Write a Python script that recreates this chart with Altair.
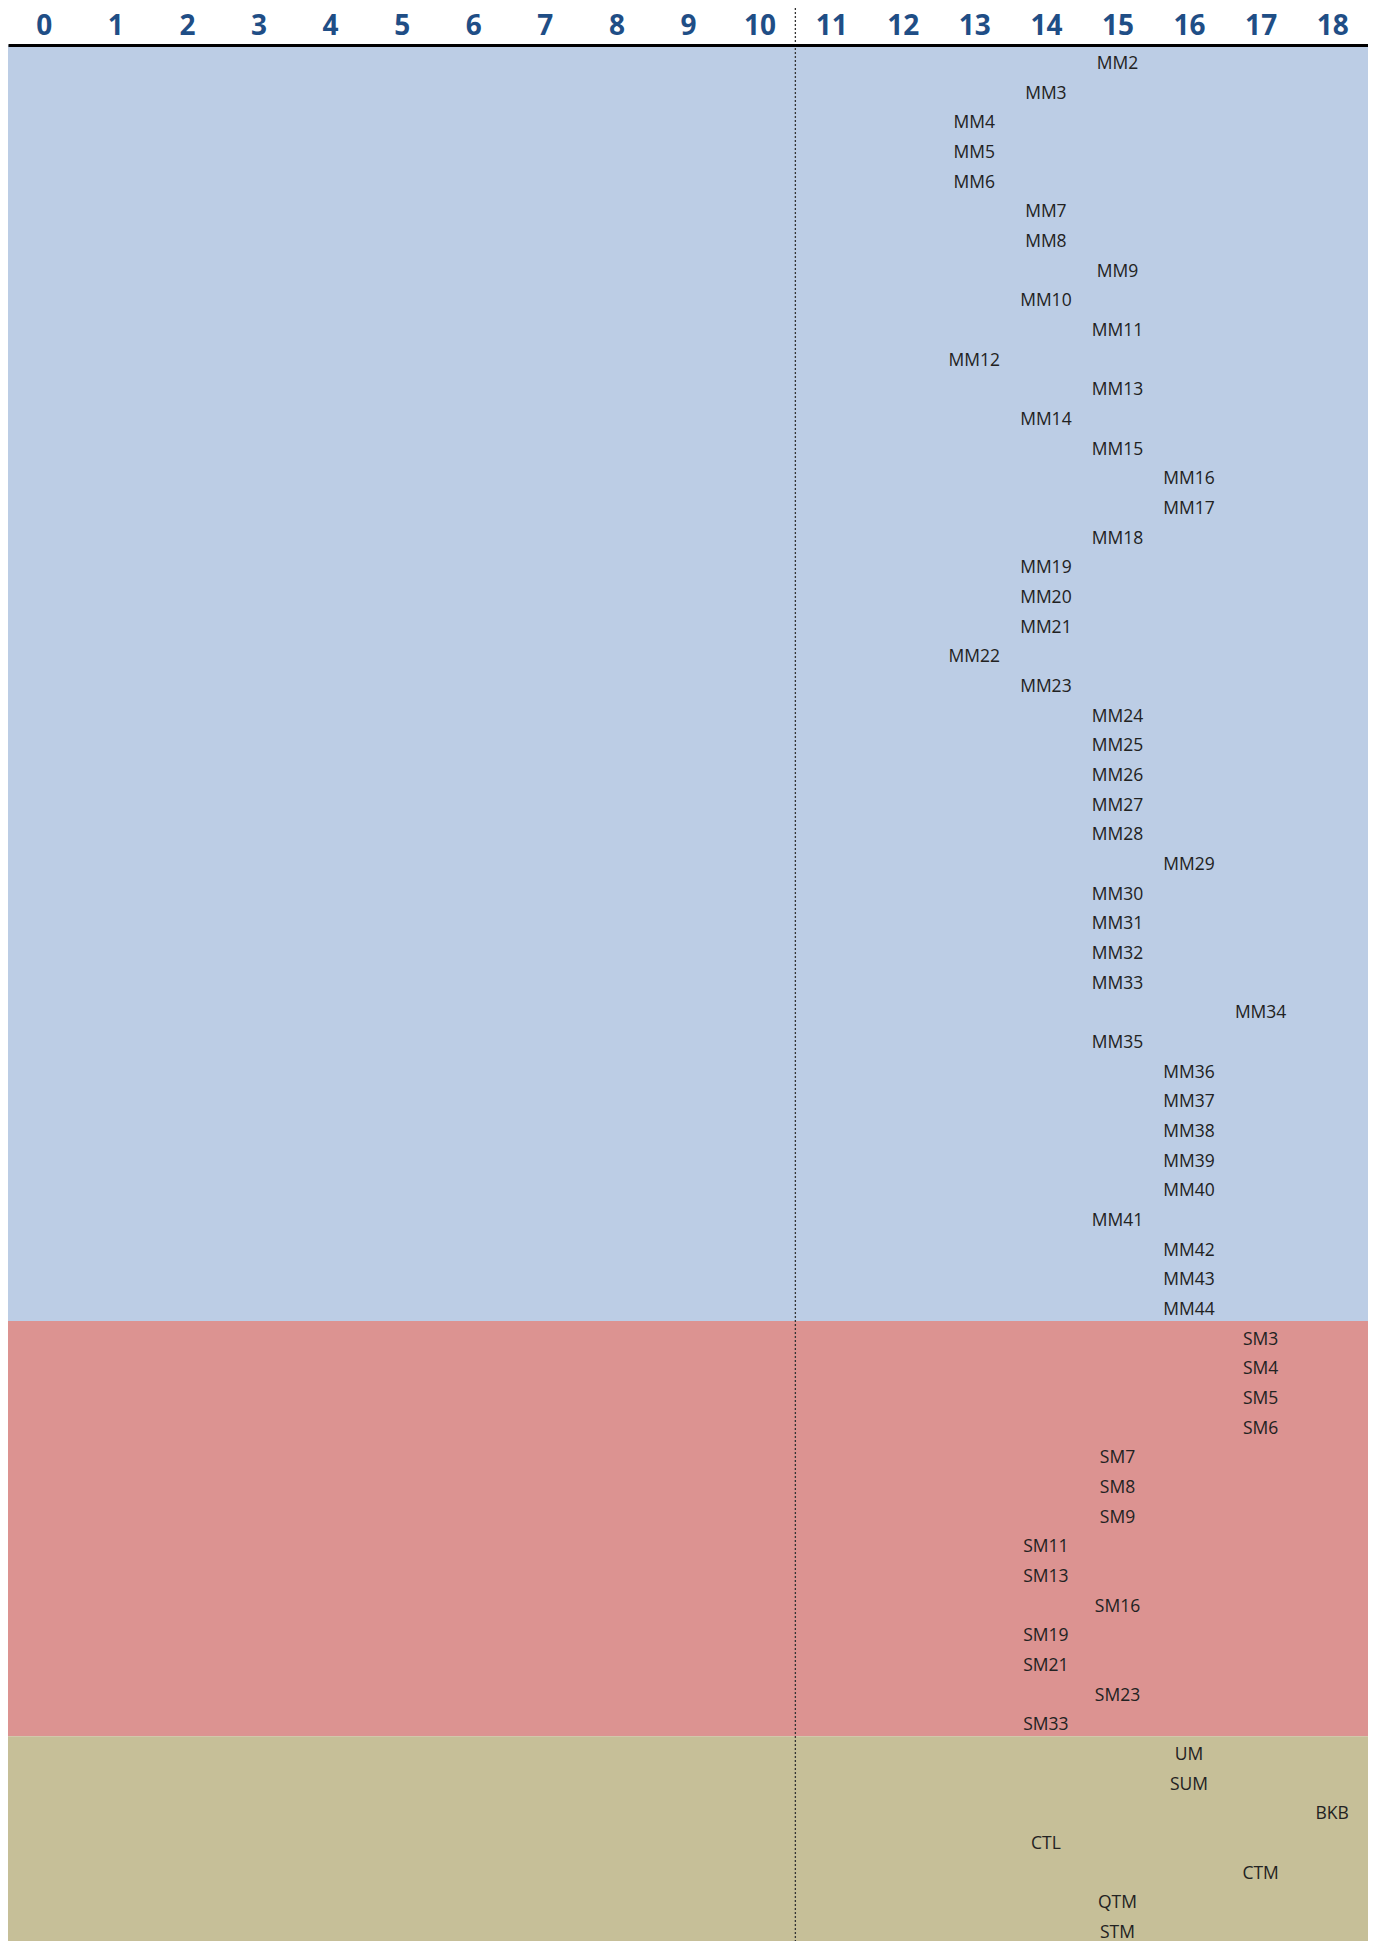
import altair as alt
import pandas as pd

# Row labels and the column (0-18) where each label sits
mm_names = ["MM%d" % n for n in range(2, 45)]
mm_cols = [15, 14, 13, 13, 13, 14, 14, 15, 14, 15, 13, 15, 14, 15, 16, 16, 15, 14, 14, 14,
           13, 14, 15, 15, 15, 15, 15, 16, 15, 15, 15, 15, 17, 15, 16, 16, 16, 16, 16, 15,
           16, 16, 16]
sm_names = ["SM3", "SM4", "SM5", "SM6", "SM7", "SM8", "SM9", "SM11", "SM13", "SM16",
            "SM19", "SM21", "SM23", "SM33"]
sm_cols = [17, 17, 17, 17, 15, 15, 15, 14, 14, 15, 14, 14, 15, 14]
ot_names = ["UM", "SUM", "BKB", "CTL", "CTM", "QTM", "STM"]
ot_cols = [16, 16, 18, 14, 17, 15, 15]

group_names = ["MM", "SM", "Other"]
group_colors = ["#BCCDE5", "#DC9391", "#C6BF98"]
tick_values = list(range(0, 19))
divider_at = 10.5

names = mm_names + sm_names + ot_names
cols = mm_cols + sm_cols + ot_cols
groups = (["MM"] * len(mm_names)) + (["SM"] * len(sm_names)) + (["Other"] * len(ot_names))
n_rows = len(names)

rows = pd.DataFrame({
    "name": names,
    "col": cols,
    "group": groups,
    "row": [i + 0.5 for i in range(n_rows)],
})

counts = [len(mm_names), len(sm_names), len(ot_names)]
starts, ends = [], []
acc = 0
for c in counts:
    starts.append(acc)
    acc += c
    ends.append(acc)
bands = pd.DataFrame({"group": group_names, "start": starts, "end": ends})

W, H = 1360, 1899

xscale = alt.Scale(domain=[-0.5, 18.5], nice=False, zero=False)
yscale = alt.Scale(domain=[0, n_rows], reverse=True, nice=False, zero=False)
color_scale = alt.Scale(domain=group_names, range=group_colors)

band_layer = alt.Chart(bands).mark_rect().encode(
    x=alt.X("xs:Q", scale=xscale, axis=alt.Axis(
        orient="top", values=tick_values, title=None, grid=False, ticks=False, tickSize=0,
        labelFont="Open Sans", labelFontWeight="bold", labelFontSize=28,
        labelColor="#1F4E86", labelPadding=11, labelBaseline="alphabetic",
        domainColor="#000000", domainWidth=3, zindex=1, labelFlush=False,
        format="d")),
    x2="xe:Q",
    y=alt.Y("start:Q", scale=yscale, axis=None),
    y2="end:Q",
    color=alt.Color("group:N", scale=color_scale, legend=None),
).transform_calculate(xs="-0.5", xe="18.5")

text_layer = alt.Chart(rows).mark_text(
    font="Open Sans", fontSize=17.5, color="#222222", align="center",
    baseline="middle", dy=4
).encode(
    x=alt.X("col:Q", scale=xscale),
    y=alt.Y("row:Q", scale=yscale),
    text="name:N",
)

divider = alt.Chart(pd.DataFrame({"x": [divider_at]})).mark_rule(
    color="#333333", strokeWidth=1.3, strokeDash=[2, 2], clip=False
).encode(
    x=alt.X("x:Q", scale=xscale),
    y=alt.value(-45),
    y2=alt.value(H),
)

chart = alt.layer(band_layer, divider, text_layer).properties(
    width=W, height=H,
    autosize=alt.AutoSizeParams(type="none"),
    padding={"left": 0, "top": 37, "right": 0, "bottom": 0},
    background="#FFFFFF",
).configure_view(stroke=None)

chart.save("out.html", embed_options={"renderer": "svg", "actions": False})
